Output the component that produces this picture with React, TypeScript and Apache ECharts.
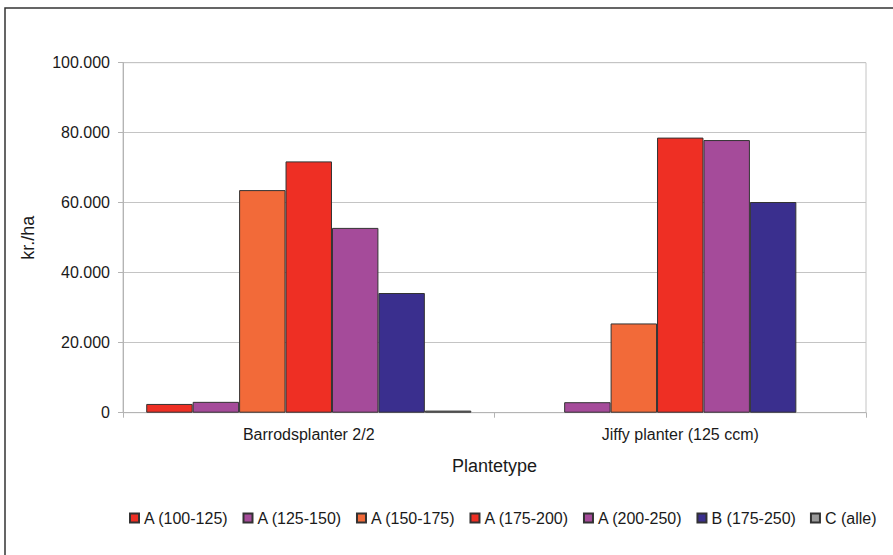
import React, { useEffect, useRef } from "react";
import * as echarts from "echarts";

const categories = ["Barrodsplanter 2/2", "Jiffy planter (125 ccm)"];
const seriesNames = [
  "A (100-125)",
  "A (125-150)",
  "A (150-175)",
  "A (175-200)",
  "A (200-250)",
  "B (175-250)",
  "C (alle)",
];
const a100_125 = [2500, null];
const a125_150 = [3100, 3000];
const a150_175 = [63600, 25500];
const a175_200 = [71800, 78600];
const a200_250 = [52800, 77900];
const b175_250 = [34200, 60200];
const cAlle = [600, null];
const seriesValues = [a100_125, a125_150, a150_175, a175_200, a200_250, b175_250, cAlle];
const seriesColors = ["#EE2F24", "#A54B9A", "#F26A39", "#EE2F24", "#A54B9A", "#3A2F8E", "#9A9A9A"];
const yTicks = { min: 0, max: 100000, interval: 20000 };

const FONT = '"Liberation Sans", Arial, Helvetica, sans-serif';

function fmt(v: number): string {
  if (v === 0) return "0";
  const s = String(Math.round(v));
  return s.replace(/\B(?=(\d{3})+(?!\d))/g, ".");
}

export default function App() {
  const ref = useRef<HTMLDivElement>(null);
  useEffect(() => {
    if (!ref.current) return;
    const chart = echarts.init(ref.current, null, { renderer: "svg" });
    chart.setOption({
      animation: false,
      backgroundColor: "#ffffff",
      textStyle: { fontFamily: FONT },
      graphic: [
        {
          type: "rect",
          shape: { x: 5, y: 8, width: 900, height: 560 },
          style: { fill: "none", stroke: "#333333", lineWidth: 1.5 },
          silent: true,
        },
      ],
      grid: {
        left: 123,
        right: 27,
        top: 62.7,
        bottom: 142.3,
        show: true,
        borderColor: "#c4c4c4",
        borderWidth: 1,
        containLabel: false,
        outerBoundsMode: "none",
      },
      legend: {
        left: 124,
        top: 505,
        itemWidth: 9,
        itemHeight: 9,
        itemGap: 14,
        icon: "rect",
        textStyle: { fontFamily: FONT, fontSize: 16, color: "#1a1a1a" },
        data: seriesNames,
      },
      xAxis: {
        type: "category",
        data: categories,
        boundaryGap: true,
        name: "Plantetype",
        nameLocation: "middle",
        nameGap: 44,
        nameTextStyle: { fontFamily: FONT, fontSize: 18, color: "#1a1a1a" },
        axisLine: { show: true, lineStyle: { color: "#b4b4b4", width: 1 } },
        axisTick: { show: true, length: 5, lineStyle: { color: "#b4b4b4" } },
        axisLabel: { margin: 14, fontFamily: FONT, fontSize: 16, color: "#1a1a1a" },
        splitLine: { show: false },
      },
      yAxis: {
        type: "value",
        min: yTicks.min,
        max: yTicks.max,
        interval: yTicks.interval,
        name: "kr./ha",
        nameLocation: "middle",
        nameRotate: 90,
        nameGap: 86,
        nameTextStyle: { fontFamily: FONT, fontSize: 18, color: "#1a1a1a" },
        axisLine: { show: true, lineStyle: { color: "#b4b4b4", width: 1 } },
        axisTick: { show: true, length: 5, lineStyle: { color: "#b4b4b4" } },
        axisLabel: {
          margin: 13,
          fontFamily: FONT,
          fontSize: 16,
          color: "#1a1a1a",
          formatter: (v: number) => fmt(v),
        },
        splitLine: { show: true, lineStyle: { color: "#c4c4c4", width: 1 } },
      },
      series: seriesNames.map((name, i) => ({
        name,
        type: "bar",
        data: seriesValues[i],
        barGap: "0%",
        barCategoryGap: "12.5%",
        itemStyle: { color: seriesColors[i], borderColor: "#333333", borderWidth: 1 },
      })),
    });
    return () => chart.dispose();
  }, []);
  return (
    <div
      ref={ref}
      style={{ position: "absolute", left: 0, top: 0, width: 893, height: 555 }}
    />
  );
}
